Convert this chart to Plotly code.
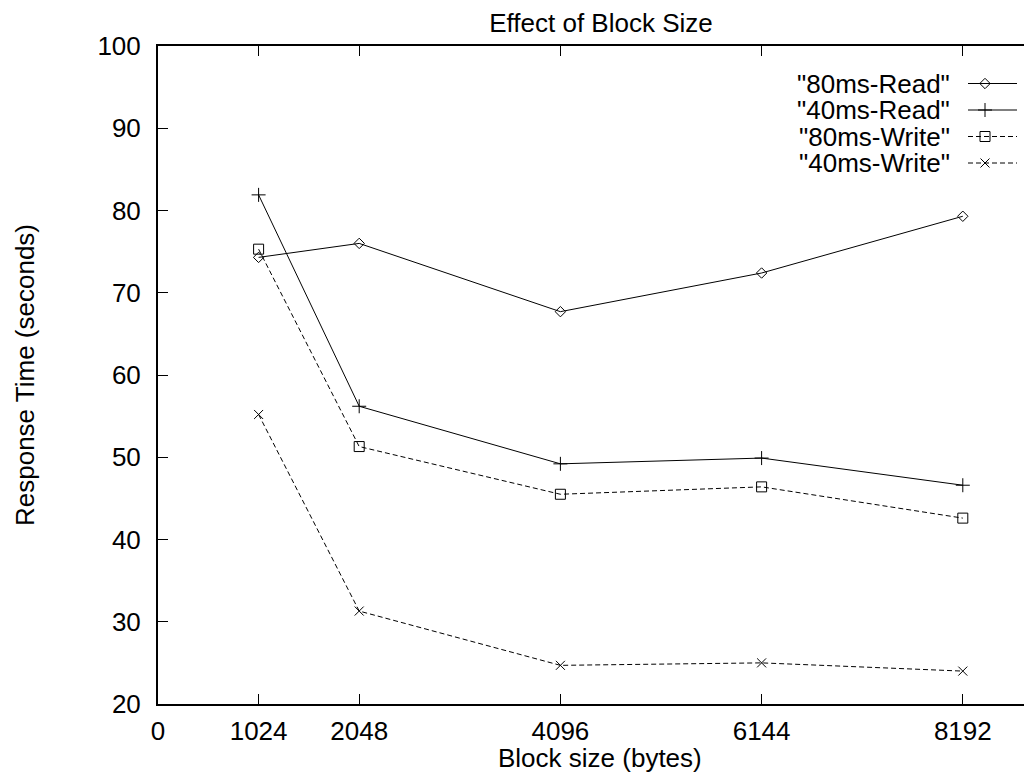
import plotly.graph_objects as go

# ---- data ----
block_sizes = [1024, 2048, 4096, 6144, 8192]
read_80ms = [74.3, 76.0, 67.7, 72.4, 79.3]
read_40ms = [81.9, 56.2, 49.2, 49.9, 46.6]
write_80ms = [75.3, 51.3, 45.5, 46.4, 42.6]
write_40ms = [55.2, 31.3, 24.7, 25.0, 24.0]

series_names = ['"80ms-Read"', '"40ms-Read"', '"80ms-Write"', '"40ms-Write"']
x_tick_vals = [0, 1024, 2048, 4096, 6144, 8192]
y_tick_vals = [20, 30, 40, 50, 60, 70, 80, 90, 100]

FONT = "Liberation Sans, Arial, Helvetica, sans-serif"
FS = 26
PAGE_OFF = 8            # default body margin of the html page
PW, PH = 1032, 775      # visible page size
# plot area in page pixels (right border lies beyond the visible page, as in the reference)
PLOT_L, PLOT_T, PLOT_B, PLOT_R = 158, 46, 704, 1046
W, H = PLOT_R - PAGE_OFF, PH - PAGE_OFF
L, T, B, R = PLOT_L - PAGE_OFF, PLOT_T - PAGE_OFF, (PAGE_OFF + H) - PLOT_B, 0

def pxp(xp):  # page x -> plot-area paper fraction
    return (xp - PLOT_L) / (PLOT_R - PLOT_L)

def pyp(yp):  # page y -> plot-area paper fraction
    return (PLOT_B - yp) / (PLOT_B - PLOT_T)

styles = [
    dict(symbol="diamond-open", dash="solid", size=8),
    dict(symbol="cross-thin-open", dash="solid", size=10),
    dict(symbol="square-open", dash="5px,3px", size=10),
    dict(symbol="x-thin-open", dash="5px,3px", size=9),
]
all_series = [read_80ms, read_40ms, write_80ms, write_40ms]

fig = go.Figure()
for name, ys, st in zip(series_names, all_series, styles):
    fig.add_trace(go.Scatter(
        x=block_sizes, y=ys, mode="lines+markers", name=name,
        line=dict(color="black", width=1, dash=st["dash"]),
        marker=dict(symbol=st["symbol"], size=st["size"], color="black",
                    line=dict(color="black", width=1)),
        showlegend=False, cliponaxis=False,
    ))

# ---- custom gnuplot-style key (text left, sample right), in page-pixel space ----
key_text_right = 951
key_line_x0, key_line_x1, key_marker_x = 968, 1017, 985
key_rows_y = [83.5, 110, 136.5, 163]
for name, st, ky in zip(series_names, styles, key_rows_y):
    fig.add_trace(go.Scatter(
        x=[key_line_x0, key_line_x1], y=[ky, ky], mode="lines",
        line=dict(color="black", width=1, dash=st["dash"]),
        xaxis="x2", yaxis="y2", showlegend=False, hoverinfo="skip",
    ))
    fig.add_trace(go.Scatter(
        x=[key_marker_x], y=[ky], mode="markers",
        marker=dict(symbol=st["symbol"], size=st["size"], color="black",
                    line=dict(color="black", width=1)),
        xaxis="x2", yaxis="y2", showlegend=False, hoverinfo="skip",
    ))
    fig.add_annotation(
        x=key_text_right, y=ky, xref="x2", yref="y2", text=name,
        showarrow=False, xanchor="right", yanchor="middle", borderpad=0,
        font=dict(family=FONT, size=FS, color="black"),
    )

# axis titles as annotations for exact placement
fig.add_annotation(text="Block size (bytes)", x=pxp(600), y=pyp(758),
                   xref="paper", yref="paper", showarrow=False,
                   xanchor="center", yanchor="middle",
                   font=dict(family=FONT, size=FS, color="black"))
fig.add_annotation(text="Response Time (seconds)", x=pxp(25), y=pyp(375),
                   xref="paper", yref="paper", showarrow=False, textangle=-90,
                   xanchor="center", yanchor="middle",
                   font=dict(family=FONT, size=FS, color="black"))

# blank strip at the right page edge (the reference shows no right border there)
fig.add_shape(type="rect", xref="x2", yref="y2", x0=1019, x1=PLOT_R,
              y0=PLOT_T + 3, y1=PLOT_B - 3, fillcolor="white",
              line=dict(width=0), layer="above")

x_per_1024 = 100.6
x_max = (PLOT_R - PLOT_L) / x_per_1024 * 1024

axis_common = dict(
    showgrid=False, zeroline=False, showline=True, linecolor="black",
    linewidth=2, ticks="inside", ticklen=10, tickwidth=1, tickcolor="black",
    tickfont=dict(family=FONT, size=FS, color="black"),
)

fig.update_layout(
    width=W, height=H,
    margin=dict(l=L, r=R, t=T, b=B, pad=0),
    paper_bgcolor="white", plot_bgcolor="white",
    title=dict(text="Effect of Block Size", x=(601 - PAGE_OFF) / W, xanchor="center",
               y=1 - (23 - PAGE_OFF) / H, yanchor="middle",
               font=dict(family=FONT, size=FS, color="black")),
    xaxis=dict(range=[0, x_max], tickvals=x_tick_vals,
               ticktext=[str(v) for v in x_tick_vals], mirror="ticks",
               ticklabelstandoff=3, **axis_common),
    yaxis=dict(range=[20, 100], tickvals=y_tick_vals, mirror=False,
               ticklabelstandoff=10, **axis_common),
    xaxis2=dict(range=[PLOT_L, PLOT_R], overlaying="x", visible=False, showline=False,
                fixedrange=True),
    yaxis2=dict(range=[PLOT_B, PLOT_T], overlaying="y", visible=False, showline=False,
                fixedrange=True),
    font=dict(family=FONT, size=FS, color="black"),
)

fig.write_html(
    "out.html",
    post_script="document.documentElement.style.overflow='hidden';"
                "document.body.style.overflow='hidden';",
)
